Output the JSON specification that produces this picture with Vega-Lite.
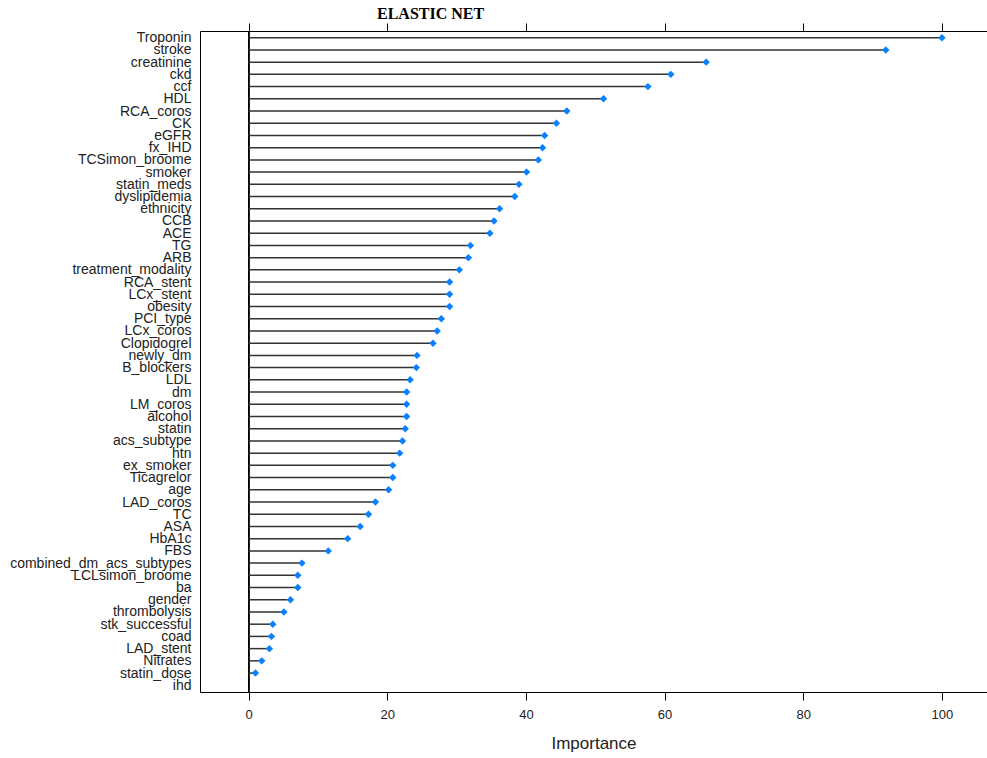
{
  "$schema": "https://vega.github.io/schema/vega-lite/v6.json",
  "autosize": {"type": "none"},
  "padding": {"left": 200, "top": 31, "right": 0, "bottom": 66},
  "width": 787,
  "height": 661,
  "background": "white",
  "title": {
    "text": "ELASTIC NET",
    "font": "Liberation Serif",
    "fontSize": 16,
    "fontWeight": "bold",
    "color": "#000",
    "anchor": "start",
    "frame": "group",
    "dx": 177,
    "offset": 1
  },
  "config": {
    "view": {"stroke": null},
    "axis": {"grid": false, "domainColor": "#000", "tickColor": "#000", "labelFont": "Liberation Sans", "labelColor": "#222", "titleFont": "Liberation Sans", "titleColor": "#222", "titleFontWeight": "normal"}
  },
  "data": {
    "values": [
      {"feature": "Troponin", "Importance": 100},
      {"feature": "stroke", "Importance": 91.9},
      {"feature": "creatinine", "Importance": 66.0},
      {"feature": "ckd", "Importance": 60.9},
      {"feature": "ccf", "Importance": 57.6},
      {"feature": "HDL", "Importance": 51.2},
      {"feature": "RCA_coros", "Importance": 45.9},
      {"feature": "CK", "Importance": 44.4},
      {"feature": "eGFR", "Importance": 42.7},
      {"feature": "fx_IHD", "Importance": 42.4},
      {"feature": "TCSimon_broome", "Importance": 41.8},
      {"feature": "smoker", "Importance": 40.1},
      {"feature": "statin_meds", "Importance": 39.0},
      {"feature": "dyslipidemia", "Importance": 38.4},
      {"feature": "ethnicity", "Importance": 36.2},
      {"feature": "CCB", "Importance": 35.4},
      {"feature": "ACE", "Importance": 34.8},
      {"feature": "TG", "Importance": 32.0},
      {"feature": "ARB", "Importance": 31.7},
      {"feature": "treatment_modality", "Importance": 30.4},
      {"feature": "RCA_stent", "Importance": 29.0},
      {"feature": "LCx_stent", "Importance": 29.0},
      {"feature": "obesity", "Importance": 29.0},
      {"feature": "PCI_type", "Importance": 27.8},
      {"feature": "LCx_coros", "Importance": 27.2},
      {"feature": "Clopidogrel", "Importance": 26.6},
      {"feature": "newly_dm", "Importance": 24.3},
      {"feature": "B_blockers", "Importance": 24.2},
      {"feature": "LDL", "Importance": 23.3},
      {"feature": "dm", "Importance": 22.8},
      {"feature": "LM_coros", "Importance": 22.8},
      {"feature": "alcohol", "Importance": 22.8},
      {"feature": "statin", "Importance": 22.6},
      {"feature": "acs_subtype", "Importance": 22.2},
      {"feature": "htn", "Importance": 21.8},
      {"feature": "ex_smoker", "Importance": 20.8},
      {"feature": "Ticagrelor", "Importance": 20.8},
      {"feature": "age", "Importance": 20.2},
      {"feature": "LAD_coros", "Importance": 18.3},
      {"feature": "TC", "Importance": 17.3},
      {"feature": "ASA", "Importance": 16.1},
      {"feature": "HbA1c", "Importance": 14.3},
      {"feature": "FBS", "Importance": 11.5},
      {"feature": "combined_dm_acs_subtypes", "Importance": 7.7},
      {"feature": "LCLsimon_broome", "Importance": 7.1},
      {"feature": "ba", "Importance": 7.1},
      {"feature": "gender", "Importance": 6.05},
      {"feature": "thrombolysis", "Importance": 5.1},
      {"feature": "stk_successful", "Importance": 3.5},
      {"feature": "coad", "Importance": 3.3},
      {"feature": "LAD_stent", "Importance": 3.0},
      {"feature": "Nitrates", "Importance": 1.9},
      {"feature": "statin_dose", "Importance": 1.0},
      {"feature": "ihd", "Importance": 0}
    ]
  },
  "layer": [
    {
      "mark": {"type": "point", "opacity": 0},
      "encoding": {
        "y": {"field": "feature", "type": "ordinal", "sort": null, "scale": {"type": "point", "padding": 0.55},
          "axis": {"title": null, "ticks": false, "domain": true, "labelFontSize": 14, "labelPadding": 9, "labelLimit": 0, "labelColor": "#222"}},
        "x": {"field": "Importance", "type": "quantitative", "scale": {"domain": [-7, 106.5], "nice": false, "zero": false},
          "axis": {"orient": "top", "values": [0, 20, 40, 60, 80, 100], "labels": false, "tickSize": 8, "domain": true, "title": null}}
      }
    },
    {
      "mark": {"type": "rule", "color": "#000", "strokeWidth": 1},
      "encoding": {
        "x": {"datum": 0, "type": "quantitative", "axis": null}
      }
    },
    {
      "mark": {"type": "rule", "color": "#333", "strokeWidth": 1.5},
      "encoding": {
        "y": {"field": "feature", "type": "ordinal", "sort": null},
        "x": {"field": "Importance", "type": "quantitative", "axis": null},
        "x2": {"datum": 0}
      }
    },
    {
      "transform": [{"filter": "datum.Importance > 0"}],
      "mark": {"type": "point", "shape": "diamond", "filled": true, "color": "#0A80FF", "size": 55, "opacity": 1},
      "encoding": {
        "y": {"field": "feature", "type": "ordinal", "sort": null},
        "x": {"field": "Importance", "type": "quantitative",
          "axis": {"orient": "bottom", "values": [0, 20, 40, 60, 80, 100], "tickSize": 8, "labelFontSize": 13, "labelPadding": 8, "title": "Importance", "titleFontSize": 17, "titlePadding": 14}}
      }
    }
  ]
}
